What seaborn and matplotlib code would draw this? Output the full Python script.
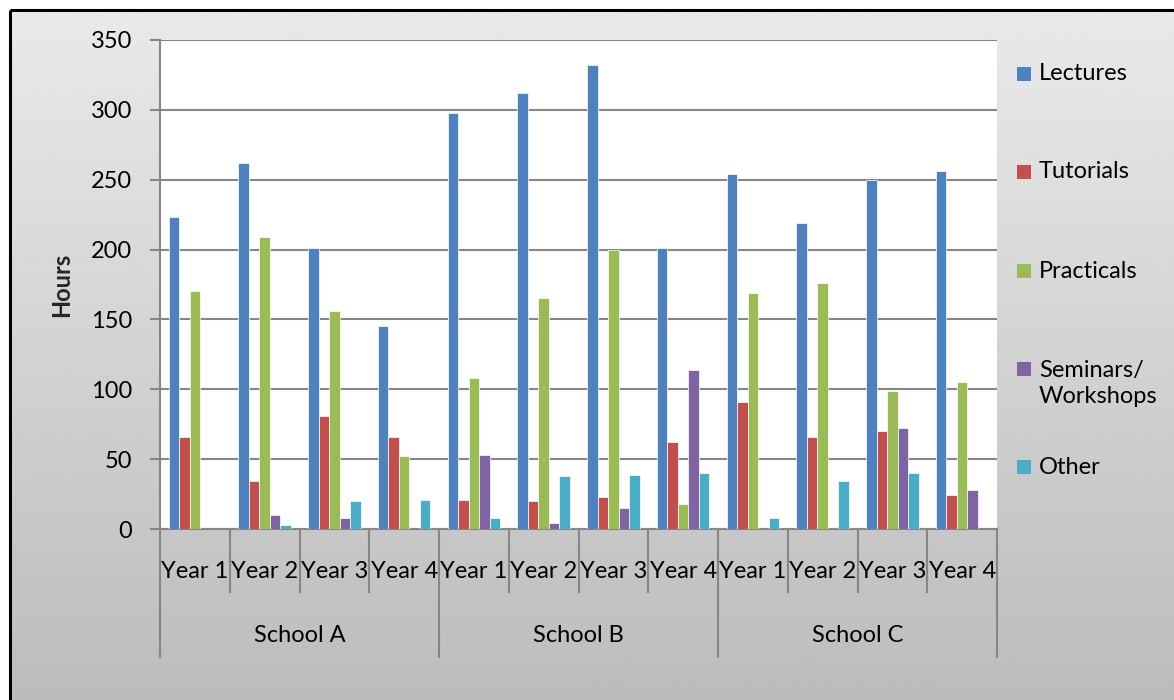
import numpy as np
import pandas as pd
import matplotlib
matplotlib.use("Agg")
import matplotlib.pyplot as plt
from matplotlib.patches import Rectangle
from matplotlib.transforms import blended_transform_factory
import seaborn as sns

# ---- data -------------------------------------------------------------
schools = ["School A", "School B", "School C"]
years = ["Year 1", "Year 2", "Year 3", "Year 4"]
activities = ["Lectures", "Tutorials", "Practicals", "Seminars/\nWorkshops", "Other"]

lectures = [223, 262, 201, 145, 298, 312, 332, 201, 254, 219, 250, 256]
tutorials = [66, 34, 81, 66, 21, 20, 23, 62, 91, 66, 70, 24]
practicals = [170, 209, 156, 52, 108, 165, 200, 18, 169, 176, 99, 105]
seminars = [0, 10, 8, 0, 53, 4, 15, 114, 0, 0, 72, 28]
other = [0, 3, 20, 21, 8, 38, 39, 40, 8, 34, 40, 0]

colors = ["#4F81BD", "#C0504D", "#9BBB59", "#8064A2", "#4BACC6"]

# ---- long-form table --------------------------------------------------
slots = [f"{s}|{y}" for s in schools for y in years]
series = [lectures, tutorials, practicals, seminars, other]
rows = []
for act, vals in zip(activities, series):
    for slot, v in zip(slots, vals):
        rows.append({"slot": slot, "activity": act, "hours": v})
df = pd.DataFrame(rows)

# ---- figure -----------------------------------------------------------
sns.set_theme(style="white")
plt.rcParams["font.family"] = ["Lato", "DejaVu Sans"]
FS = 17

W, H = 1174, 700
fig = plt.figure(figsize=(W / 100, H / 100), dpi=100)

# vertical grey gradient background
bg = fig.add_axes([0, 0, 1, 1], zorder=-10)
grad = np.linspace(0.918, 0.737, 256).reshape(-1, 1)
bg.imshow(grad, cmap="gray", vmin=0, vmax=1, aspect="auto",
          extent=[0, 1, 0, 1], origin="upper")
bg.set_xlim(0, 1)
bg.set_ylim(0, 1)
bg.axis("off")
# white margin and black frame along the top and left
bg.add_patch(Rectangle((0, 1 - 9 / H), 1, 9 / H, color="white", lw=0))
bg.add_patch(Rectangle((0, 0), 9 / W, 1, color="white", lw=0))
bg.plot([10 / W, 10 / W], [0, 1 - 10 / H], color="black", lw=2.2,
        solid_capstyle="butt")
bg.plot([10 / W, 1], [1 - 10 / H, 1 - 10 / H], color="black", lw=2.2,
        solid_capstyle="butt")

left, right, top, bottom = 160, 997, 40, 529
ax = fig.add_axes([left / W, 1 - bottom / H, (right - left) / W, (bottom - top) / H])
ax.set_facecolor("white")

sns.barplot(data=df, x="slot", y="hours", hue="activity", order=slots,
            hue_order=activities, palette=colors, saturation=1, width=0.75,
            gap=0, edgecolor="white", linewidth=0.5, errorbar=None, ax=ax,
            legend=False, zorder=3)

grid_c = "#868686"
ax.set_ylim(0, 350)
ax.set_yticks(np.arange(0, 351, 50))
ax.set_xlim(-0.5, len(slots) - 0.5)
ax.yaxis.grid(True, color=grid_c, lw=1.5)
ax.set_axisbelow(True)
for side in ("top", "right"):
    ax.spines[side].set_visible(False)
for side in ("left", "bottom"):
    ax.spines[side].set_color(grid_c)
    ax.spines[side].set_linewidth(1.5)
ax.tick_params(axis="y", length=7, width=1.5, color=grid_c, pad=13,
               labelsize=FS, labelcolor="black", left=True)
ax.set_xticks([])
ax.set_xlabel("")
ax.set_ylabel("Hours", fontsize=FS, fontweight="bold")
ax.yaxis.label.set_va("center")
ax.yaxis.set_label_coords((62 - left) / (right - left), 0.5)

# two-level category axis
tr = blended_transform_factory(ax.transData, ax.transAxes)
ah = bottom - top
for i, slot in enumerate(slots):
    ax.text(i, -(572 - bottom) / ah, slot.split("|")[1], transform=tr,
            ha="center", va="center", fontsize=FS, color="black")
for k, s in enumerate(schools):
    ax.text(k * len(years) + (len(years) - 1) / 2, -(636 - bottom) / ah, s,
            transform=tr, ha="center", va="center", fontsize=FS, color="black")
for b in range(len(slots) + 1):
    x = b - 0.5
    depth = 658 if b % len(years) == 0 else 593
    ax.plot([x, x], [0, -(depth - bottom) / ah], transform=tr, color=grid_c,
            lw=1.5, clip_on=False, solid_capstyle="butt")

# legend on the right
legend_y = [74, 172, 271, 383.5, 467]
for act, col, yc in zip(activities, colors, legend_y):
    ys = 369 if "\n" in act else yc
    fig.patches.append(Rectangle((1017 / W, 1 - (ys + 7) / H), 14 / W, 14 / H,
                                 transform=fig.transFigure, color=col, lw=0))
    fig.text(1039 / W, 1 - yc / H, act, ha="left", va="center", fontsize=FS,
             color="black", linespacing=1.25)

fig.savefig("out.png", dpi=100)
